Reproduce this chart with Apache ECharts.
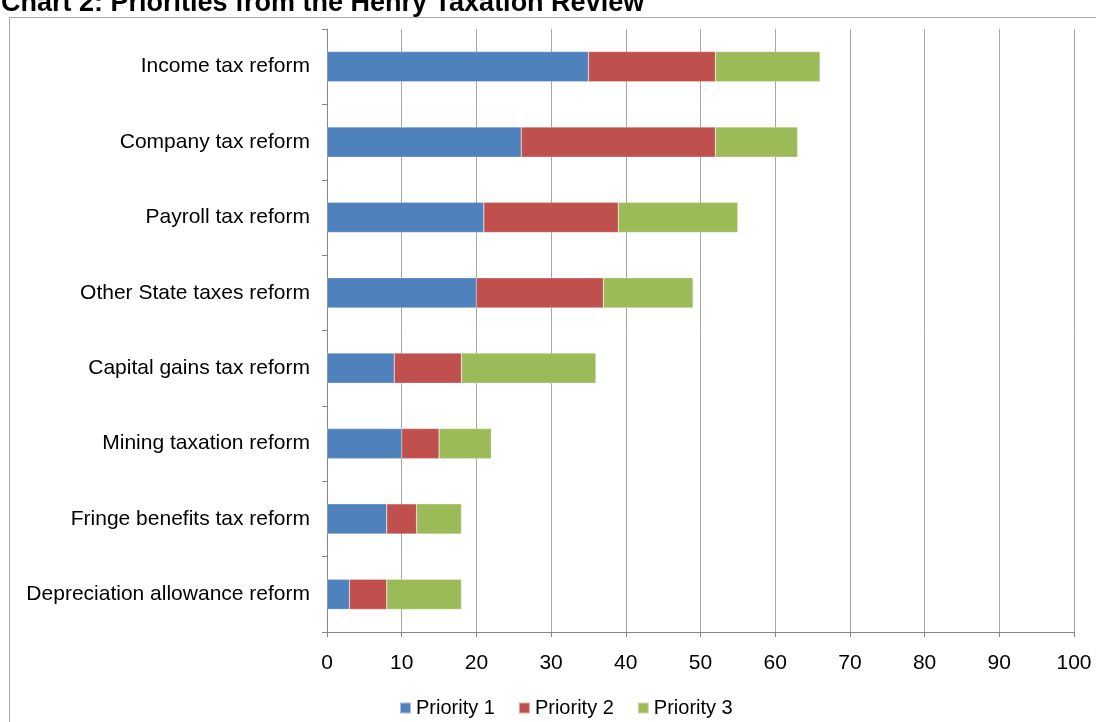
<!DOCTYPE html>
<html>
<head>
<meta charset="utf-8">
<script src="https://cdn.jsdelivr.net/npm/echarts@6/dist/echarts.min.js"></script>
<style>
  html, body { margin: 0; padding: 0; background: #ffffff; }
  #chart { width: 1096px; height: 722px; }
</style>
</head>
<body>
<div id="chart"></div>
<script>
// Reform areas, listed top to bottom
const categories = [
  'Income tax reform',
  'Company tax reform',
  'Payroll tax reform',
  'Other State taxes reform',
  'Capital gains tax reform',
  'Mining taxation reform',
  'Fringe benefits tax reform',
  'Depreciation allowance reform'
];

// Number of submissions ranking each reform at each priority
const priority1 = [35, 26, 21, 20, 9, 10, 8, 3];
const priority2 = [17, 26, 18, 17, 9, 5, 4, 5];
const priority3 = [14, 11, 16, 12, 18, 7, 6, 10];

const seriesNames = ['Priority 1', 'Priority 2', 'Priority 3'];
const seriesColors = ['#4F81BD', '#C0504D', '#9BBB59'];
const seriesValues = [priority1, priority2, priority3];

const FONT = '"Liberation Sans", Arial, sans-serif';

const chart = echarts.init(document.getElementById('chart'), null, { renderer: 'canvas' });

chart.setOption({
  animation: false,
  backgroundColor: '#ffffff',
  title: {
    text: 'Chart 2: Priorities from the Henry Taxation Review',
    left: -4,
    top: -15,
    textStyle: { fontFamily: FONT, fontSize: 27, fontWeight: 'bold', color: '#000000' }
  },
  graphic: [{
    type: 'rect',
    z: -1,
    shape: { x: 9.5, y: 17.5, width: 1200, height: 800 },
    style: { fill: null, stroke: '#a6a6a6', lineWidth: 1 }
  }],
  legend: {
    data: seriesNames,
    left: 394,
    top: 693,
    itemWidth: 11,
    itemHeight: 11,
    itemGap: 23,
    icon: 'rect',
    textStyle: { fontFamily: FONT, fontSize: 20, color: '#000000' }
  },
  grid: { left: 327, right: 22, top: 29, bottom: 90, containLabel: false },
  xAxis: {
    type: 'value',
    min: 0,
    max: 100,
    interval: 10,
    axisLine: { show: true, lineStyle: { color: '#868686', width: 1 } },
    axisTick: { show: true, length: 5, lineStyle: { color: '#868686' } },
    axisLabel: { fontFamily: FONT, fontSize: 21, color: '#000000', margin: 21 },
    splitLine: { show: true, lineStyle: { color: '#a6a6a6', width: 1 } }
  },
  yAxis: {
    type: 'category',
    data: categories,
    inverse: true,
    axisLine: { show: true, lineStyle: { color: '#868686', width: 1 } },
    axisTick: { show: true, length: 5, lineStyle: { color: '#868686' } },
    axisLabel: { fontFamily: FONT, fontSize: 21, color: '#000000', margin: 17, padding: [3, 0, 0, 0] },
    splitLine: { show: false }
  },
  series: seriesValues.map((vals, i) => ({
    name: seriesNames[i],
    type: 'bar',
    stack: 'total',
    data: vals,
    barWidth: '40%',
    itemStyle: { color: seriesColors[i], borderColor: 'rgba(255,255,255,0.5)', borderWidth: 0.5 }
  }))
});
</script>
</body>
</html>
